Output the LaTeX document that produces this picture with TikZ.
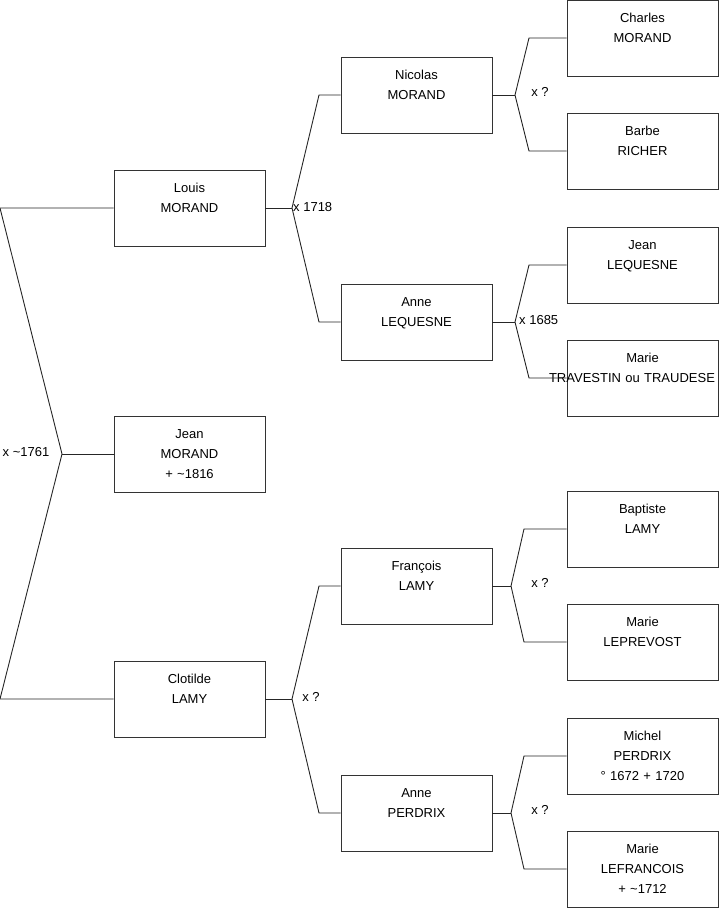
\documentclass[tikz,border=0pt]{standalone}
\usepackage{fontspec}
\setmainfont{Liberation Sans}
\begin{document}
\begin{tikzpicture}[x=1pt,y=-1pt,
  box/.style={draw=black!80, line width=0.9pt, rectangle, minimum width=151pt, minimum height=76pt,
    inner sep=0pt, text width=151pt, align=center, font=\fontsize{13}{20}\selectfont},
  conn/.style={draw=black!85, line width=0.9pt},
  lbl/.style={inner sep=0pt, font=\fontsize{13}{15}\selectfont}]
\useasboundingbox (0,0) rectangle (719,908);
% generation 1
\node[box] (louis) at (189.5,208) {Louis\\MORAND\\\mbox{}};
\node[box] (jean) at (189.5,454) {Jean\\MORAND\\+ \textasciitilde 1816};
\node[box] (clotilde) at (189.5,699) {Clotilde\\LAMY\\\mbox{}};
% generation 2
\node[box] (nicolas) at (416.5,95) {Nicolas\\MORAND\\\mbox{}};
\node[box] (anneL) at (416.5,322) {Anne\\LEQUESNE\\\mbox{}};
\node[box] (francois) at (416.5,586) {François\\LAMY\\\mbox{}};
\node[box] (anneP) at (416.5,813) {Anne\\PERDRIX\\\mbox{}};
% generation 3
\node[box] (charles) at (642.5,38) {Charles\\MORAND\\\mbox{}};
\node[box] (barbe) at (642.5,151) {Barbe\\RICHER\\\mbox{}};
\node[box] (jeanL) at (642.5,265) {Jean\\LEQUESNE\\\mbox{}};
\node[box] (marieT) at (642.5,378) {Marie\\\makebox[151pt][c]{\hspace*{-21pt}TRAVESTIN ou TRAUDESE}\\\mbox{}};
\node[box] (baptiste) at (642.5,529) {Baptiste\\LAMY\\\mbox{}};
\node[box] (marieLP) at (642.5,642) {Marie\\LEPREVOST\\\mbox{}};
\node[box] (michel) at (642.5,756) {Michel\\PERDRIX\\° 1672 + 1720};
\node[box] (marieLF) at (642.5,869) {Marie\\LEFRANCOIS\\+ \textasciitilde 1712};
% coordinates
\coordinate (L0) at (0,208);
\coordinate (Lv) at (62,454);
\coordinate (L2) at (0,699);
\coordinate (v1) at (292,208);
\coordinate (c1a) at (319,95);
\coordinate (c1b) at (319,322);
\coordinate (v2) at (292,699);
\coordinate (c2a) at (319,586);
\coordinate (c2b) at (319,813);
\coordinate (v3) at (515,95);
\coordinate (c3a) at (529,38);
\coordinate (c3b) at (529,151);
\coordinate (v4) at (515,322);
\coordinate (c4a) at (529,265);
\coordinate (c4b) at (529,378);
\coordinate (v5) at (511,586);
\coordinate (c5a) at (524,529);
\coordinate (c5b) at (524,642);
\coordinate (v6) at (511,813);
\coordinate (c6a) at (524,756);
\coordinate (c6b) at (524,869);
% connectors
\draw[conn] (louis.west) -- (L0) -- (Lv) -- (L2) -- (clotilde.west);
\draw[conn] (Lv) -- (jean.west);
\draw[conn] (louis.east) -- (v1);
\draw[conn] (nicolas.west) -- (c1a) -- (v1) -- (c1b) -- (anneL.west);
\draw[conn] (clotilde.east) -- (v2);
\draw[conn] (francois.west) -- (c2a) -- (v2) -- (c2b) -- (anneP.west);
\draw[conn] (nicolas.east) -- (v3);
\draw[conn] (charles.west) -- (c3a) -- (v3) -- (c3b) -- (barbe.west);
\draw[conn] (anneL.east) -- (v4);
\draw[conn] (jeanL.west) -- (c4a) -- (v4) -- (c4b) -- (marieT.west);
\draw[conn] (francois.east) -- (v5);
\draw[conn] (baptiste.west) -- (c5a) -- (v5) -- (c5b) -- (marieLP.west);
\draw[conn] (anneP.east) -- (v6);
\draw[conn] (michel.west) -- (c6a) -- (v6) -- (c6b) -- (marieLF.west);
% labels
\node[lbl] (m1) at (26,452) {x \textasciitilde 1761};
\node[lbl, anchor=west] (m2) at (293,207) {x 1718};
\node[lbl] (m3) at (311,697) {x ?};
\node[lbl] (m4) at (540,92) {x ?};
\node[lbl, anchor=west] (m5) at (519,320) {x 1685};
\node[lbl] (m6) at (540,583) {x ?};
\node[lbl] (m7) at (540,810) {x ?};
\end{tikzpicture}
\end{document}
